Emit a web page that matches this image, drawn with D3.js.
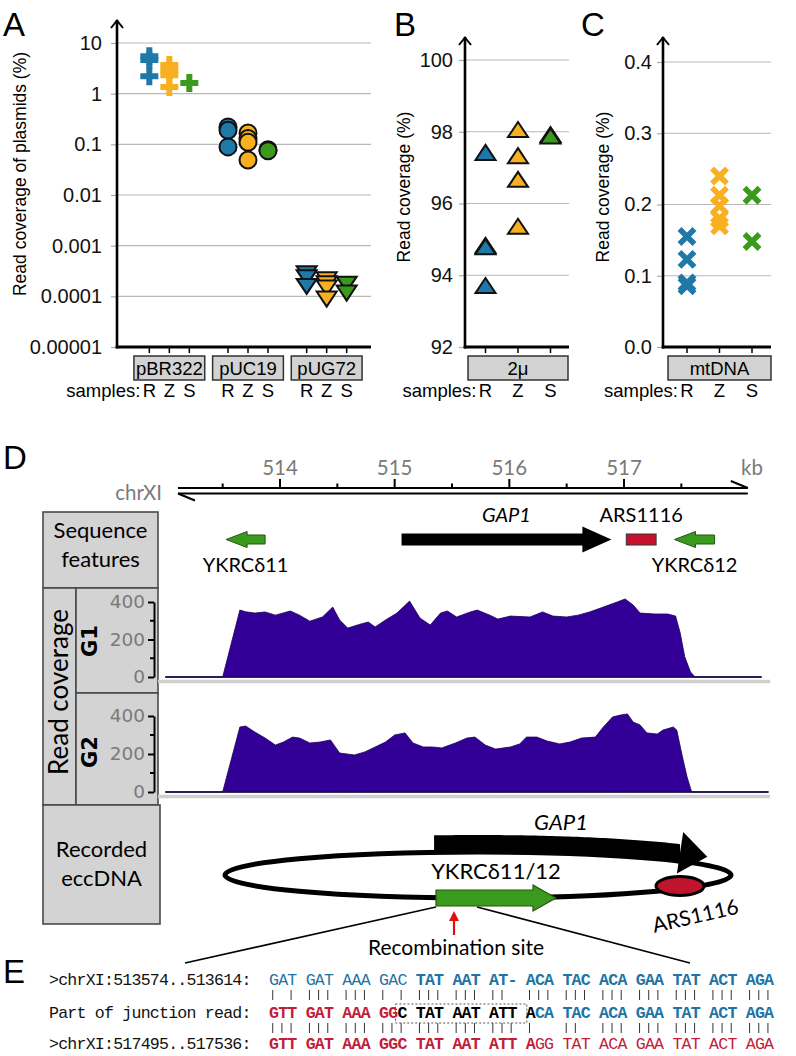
<!DOCTYPE html>
<html><head><meta charset="utf-8">
<script src="https://cdn.jsdelivr.net/npm/d3@7"></script>
<style>body{margin:0;background:#fff}svg{display:block}</style>
</head><body>
<svg id="fig" width="796" height="1056" xmlns="http://www.w3.org/2000/svg"></svg>
<script>
// ================= DATA =================
const plasmids = ["pBR322", "pUC19", "pUG72"];
const samples = ["R", "Z", "S"];
const plasmidTicks = [10, 1, 0.1, 0.01, 0.001, 0.0001, 0.00001];
const plasmidTickLabels = ["10", "1", "0.1", "0.01", "0.001", "0.0001", "0.00001"];
const pBR322 = [
  {s:"R", v:5.5}, {s:"R", v:4.6}, {s:"R", v:2.2},
  {s:"Z", v:3.7}, {s:"Z", v:2.9}, {s:"Z", v:2.3}, {s:"Z", v:1.35},
  {s:"S", v:1.62}
];
const pUC19 = [
  {s:"R", v:0.22}, {s:"R", v:0.19}, {s:"R", v:0.089},
  {s:"Z", v:0.167}, {s:"Z", v:0.13}, {s:"Z", v:0.11}, {s:"Z", v:0.049},
  {s:"S", v:0.078}, {s:"S", v:0.075}
];
const pUG72 = [
  {s:"R", v:0.00030}, {s:"R", v:0.00025}, {s:"R", v:0.000168},
  {s:"Z", v:0.000228}, {s:"Z", v:0.00019}, {s:"Z", v:0.000156}, {s:"Z", v:0.0000945},
  {s:"S", v:0.000186}, {s:"S", v:0.000124}
];
const twoMicronTicks = [100, 98, 96, 94, 92];
const twoMicron = [
  {s:"R", v:97.41}, {s:"R", v:94.82}, {s:"R", v:94.78}, {s:"R", v:93.70},
  {s:"Z", v:98.05}, {s:"Z", v:97.32}, {s:"Z", v:96.66}, {s:"Z", v:95.35},
  {s:"S", v:97.91}, {s:"S", v:97.87}
];
const mtTicks = [0.4, 0.3, 0.2, 0.1, 0.0];
const mtDNA = [
  {s:"R", v:0.155}, {s:"R", v:0.123}, {s:"R", v:0.090}, {s:"R", v:0.086},
  {s:"Z", v:0.240}, {s:"Z", v:0.213}, {s:"Z", v:0.198}, {s:"Z", v:0.180}, {s:"Z", v:0.170},
  {s:"S", v:0.213}, {s:"S", v:0.148}
];

// Panel D: genome coordinates (kb)
const kbMajor = [514, 515, 516, 517];
const kbMinor = [513.5, 514.5, 515.5, 516.5, 517.5];
const chrExtent = [513.11, 518.08];
const genes = [{name:"GAP1", start:515.06, end:516.89}];
const deltas = [{name:"YKRCδ11", start:513.53, end:513.87}, {name:"YKRCδ12", start:517.44, end:517.79}];
const arsSites = [{name:"ARS1116", start:517.02, end:517.28}];
const covTicks = [0, 200, 400];
const covMinor = [100, 300];
// coverage profiles [kb, reads]
const covG1 = [
  [513.00,0],[513.50,0],[513.65,357],[513.70,348],[513.78,341],[513.87,347],[513.96,330],
  [514.09,352],[514.17,330],[514.26,298],[514.37,320],[514.46,373],[514.52,304],[514.59,261],
  [514.70,282],[514.77,293],[514.83,267],[514.92,304],[515.02,341],[515.13,405],[515.22,315],
  [515.31,277],[515.40,341],[515.46,352],[515.54,320],[515.66,347],[515.72,357],[515.83,330],
  [515.90,309],[516.01,325],[516.18,320],[516.29,347],[516.38,325],[516.50,320],[516.60,330],
  [516.70,347],[516.82,373],[516.94,400],[517.01,416],[517.08,384],[517.14,341],[517.27,336],
  [517.38,336],[517.45,325],[517.49,235],[517.53,107],[517.58,27],[517.62,0],[518.20,0]
];
const covG2 = [
  [513.00,0],[513.50,0],[513.65,342],[513.70,347],[513.78,316],[513.87,284],[513.96,247],
  [514.03,263],[514.11,289],[514.17,284],[514.26,258],[514.35,263],[514.44,274],[514.52,205],
  [514.65,195],[514.74,211],[514.83,237],[514.92,263],[515.00,300],[515.09,311],[515.16,258],
  [515.25,237],[515.33,237],[515.41,232],[515.53,258],[515.63,284],[515.70,289],[515.79,247],
  [515.88,226],[516.01,237],[516.09,253],[516.15,289],[516.24,289],[516.33,268],[516.44,253],
  [516.53,263],[516.63,284],[516.75,289],[516.82,342],[516.90,395],[516.97,405],[517.03,411],
  [517.08,368],[517.14,353],[517.20,311],[517.29,305],[517.34,326],[517.43,342],[517.46,326],
  [517.51,184],[517.55,79],[517.59,0],[518.26,0]
];

// Panel E: alignment
const seqLabels = [">chrXI:513574..513614:", "Part of junction read:", ">chrXI:517495..517536:"];
const seqRows = [
  [{t:"GAT GAT AAA GAC ", k:"blueN"}, {t:"TAT AAT AT- ACA TAC ACA GAA TAT ACT AGA", k:"blueB"}],
  [{t:"GTT GAT AAA GG", k:"redB"}, {t:"C TAT AAT ATT A", k:"blackB"}, {t:"CA TAC ACA GAA TAT ACT AGA", k:"blueB"}],
  [{t:"GTT GAT AAA GGC TAT AAT ATT A", k:"redB"}, {t:"GG TAT ACA GAA TAT ACT AGA", k:"redN"}]
];
const matchRows = [
  "| | ||| ||| | | ||| ||| ||  ||| ||| ||| ||| ||| ||| |||",
  "||| ||| ||| ||| ||| ||| ||| |   ||  ||| ||| ||| ||| |||"
];
const junctionBox = {from:14, to:28};

// ================= STYLE =================
const SANS = "'Liberation Sans', Arial, Helvetica, sans-serif";
const HUM = "Lato, 'Open Sans', sans-serif";
const DJV = "'DejaVu Sans', sans-serif";
const MONO = "'Liberation Mono', 'Courier New', monospace";
const sampleColor = {R:"#1e79a8", Z:"#f8b020", S:"#3a9a1e"};
const seqStyle = {
  blueN:{fill:"#1f74a6", w:"normal"}, blueB:{fill:"#1f74a6", w:"bold"},
  redB:{fill:"#c21d3a", w:"bold"}, redN:{fill:"#c21d3a", w:"normal"},
  blackB:{fill:"#000", w:"bold"}
};
const svg = d3.select("#fig");

// panel letters
[["A",3,36],["B",394,36],["C",581,36],["D",3,469],["E",3,983]].forEach(([t,x,y]) =>
  svg.append("text").attr("x",x).attr("y",y).attr("font-family",SANS).attr("font-size",33).text(t));

// ================= PANELS A–C =================
const markerPath = {
  plus: "M-9,-3H-3V-9H3V-3H9V3H3V9H-3V3H-9Z",
  down: "M-10,-6L10,-6L0,9Z",
  up: "M0,-8L10,7L-10,7Z",
  cross: "M-7.5,-7.5L7.5,7.5M-7.5,7.5L7.5,-7.5"
};

function scatterPanel(cfg) {
  const g = svg.append("g");
  const y = cfg.y, xa = cfg.xAxis, xe = cfg.xEnd, yb = cfg.yBottom;
  g.append("g").selectAll("line").data(cfg.ticks.filter(t => y(t) < yb - 2)).join("line")
    .attr("x1", xa).attr("x2", xe).attr("y1", d => y(d)).attr("y2", d => y(d))
    .attr("stroke", "#b8b8b8").attr("stroke-width", 1.2);
  const ax = d3.axisLeft(y).tickValues(cfg.ticks).tickFormat(cfg.fmt).tickSize(6).tickPadding(cfg.gap);
  const ag = g.append("g").attr("transform", `translate(${xa},0)`).call(ax);
  ag.select(".domain").remove();
  ag.selectAll(".tick line").attr("stroke", "#aaa").attr("stroke-width", 1.2);
  ag.selectAll(".tick text").attr("font-family", SANS).attr("font-size", 20).attr("fill", "#111");
  g.append("line").attr("x1", xa).attr("x2", xa).attr("y1", yb + 1.5).attr("y2", cfg.yArrow)
    .attr("stroke", "#000").attr("stroke-width", 2.6);
  g.append("path").attr("d", `M${xa-6},${cfg.yArrow+8}L${xa},${cfg.yArrow+0.5}L${xa+6},${cfg.yArrow+8}`)
    .attr("fill", "none").attr("stroke", "#000").attr("stroke-width", 2);
  g.append("line").attr("x1", xa - 1.3).attr("x2", xe).attr("y1", yb).attr("y2", yb)
    .attr("stroke", "#000").attr("stroke-width", 3);
  const band = d3.scaleBand().domain(cfg.groups.map(d => d.name)).range(cfg.bandRange)
    .paddingInner(cfg.padIn).paddingOuter(cfg.padOut);
  const off = d3.scalePoint().domain(samples).range([-cfg.spread, cfg.spread]);
  cfg.groups.forEach(gr => {
    const cx = band(gr.name) + band.bandwidth() / 2;
    g.append("g").selectAll("line").data(samples).join("line")
      .attr("x1", s => cx + off(s)).attr("x2", s => cx + off(s)).attr("y1", yb).attr("y2", yb + 6)
      .attr("stroke", "#000").attr("stroke-width", 1.5);
    g.append("rect").attr("x", band(gr.name)).attr("y", 356).attr("width", band.bandwidth()).attr("height", 24)
      .attr("fill", "#d2d2d2").attr("stroke", "#333").attr("stroke-width", 1.5);
    g.append("text").attr("x", cx).attr("y", 375).attr("text-anchor", "middle")
      .attr("font-family", SANS).attr("font-size", 18.5).text(gr.name);
    g.append("g").selectAll("text").data(samples).join("text")
      .attr("x", s => cx + off(s)).attr("y", 397).attr("text-anchor", "middle")
      .attr("font-family", SANS).attr("font-size", 18.5).text(s => s);
    if (gr.marker === "circle") {
      g.append("g").selectAll("circle").data(gr.data).join("circle")
        .attr("cx", d => cx + off(d.s)).attr("cy", d => y(d.v)).attr("r", 8.5)
        .attr("fill", d => sampleColor[d.s]).attr("stroke", "#111").attr("stroke-width", 2);
    } else {
      const mk = g.append("g").selectAll("path").data(gr.data).join("path")
        .attr("transform", d => `translate(${cx + off(d.s)},${y(d.v)})`)
        .attr("d", markerPath[gr.marker]);
      if (gr.marker === "plus") mk.attr("fill", d => sampleColor[d.s]);
      else if (gr.marker === "cross") mk.attr("fill", "none").attr("stroke", d => sampleColor[d.s]).attr("stroke-width", 5.5);
      else mk.attr("fill", d => sampleColor[d.s]).attr("stroke", "#111").attr("stroke-width", 2);
    }
    if (gr === cfg.groups[0]) {
      g.append("text").attr("x", cx + off("R") - 9).attr("y", 397).attr("text-anchor", "end")
        .attr("font-family", SANS).attr("font-size", 18.5).text("samples:");
    }
  });
  g.append("text").attr("transform", `translate(${cfg.titleX},${cfg.titleY}) rotate(-90)`)
    .attr("text-anchor", "middle").attr("font-family", SANS).attr("font-size", 17.5).text(cfg.title);
}

scatterPanel({
  y: d3.scaleLog().domain([1e-5, 10]).range([347, 43]),
  ticks: plasmidTicks, fmt: (d, i) => plasmidTickLabels[i], gap: 9,
  xAxis: 117, xEnd: 371, yBottom: 347, yArrow: 20,
  groups: [
    {name: plasmids[0], data: pBR322, marker: "plus"},
    {name: plasmids[1], data: pUC19, marker: "circle"},
    {name: plasmids[2], data: pUG72, marker: "down"}
  ],
  bandRange: [130, 366], padIn: 0.1, padOut: 0.05, spread: 20,
  title: "Read coverage of plasmids (%)", titleX: 26, titleY: 174
});
scatterPanel({
  y: d3.scaleLinear().domain([92, 100]).range([347, 60]),
  ticks: twoMicronTicks, fmt: d3.format("d"), gap: 6,
  xAxis: 465, xEnd: 569, yBottom: 347, yArrow: 37,
  groups: [{name: "2μ", data: twoMicron, marker: "up"}],
  bandRange: [468, 568], padIn: 0, padOut: 0, spread: 32.5,
  title: "Read coverage (%)", titleX: 410, titleY: 187
});
scatterPanel({
  y: d3.scaleLinear().domain([0, 0.4]).range([347, 62]),
  ticks: mtTicks, fmt: d3.format(".1f"), gap: 5,
  xAxis: 663, xEnd: 771, yBottom: 347, yArrow: 37,
  groups: [{name: "mtDNA", data: mtDNA, marker: "cross"}],
  bandRange: [668, 771], padIn: 0, padOut: 0, spread: 32.5,
  title: "Read coverage (%)", titleX: 609, titleY: 187
});

// ================= PANEL D =================
const xD = d3.scaleLinear().domain([514, 517]).range([280, 624]);
const gD = svg.append("g");
const grey = "#7a7a7a";
const xl = xD(chrExtent[0]), xr = xD(chrExtent[1]);
gD.append("line").attr("x1", xl).attr("x2", xr).attr("y1", 488).attr("y2", 488).attr("stroke", "#000").attr("stroke-width", 2);
gD.append("line").attr("x1", xl).attr("x2", xr).attr("y1", 493.5).attr("y2", 493.5).attr("stroke", "#000").attr("stroke-width", 2);
gD.append("path").attr("d", `M${xr-17},481L${xr},488`).attr("stroke", "#000").attr("stroke-width", 2).attr("fill", "none");
gD.append("path").attr("d", `M${xl+17},500.5L${xl},493.5`).attr("stroke", "#000").attr("stroke-width", 2).attr("fill", "none");
gD.selectAll(".kbmaj").data(kbMajor).join("line").attr("x1", d => xD(d)).attr("x2", d => xD(d))
  .attr("y1", 479).attr("y2", 488).attr("stroke", "#000").attr("stroke-width", 2);
gD.selectAll(".kbmin").data(kbMinor).join("line").attr("x1", d => xD(d)).attr("x2", d => xD(d))
  .attr("y1", 483.5).attr("y2", 488).attr("stroke", "#000").attr("stroke-width", 2);
gD.selectAll(".kblab").data(kbMajor).join("text").attr("x", d => xD(d)).attr("y", 475)
  .attr("text-anchor", "middle").attr("font-family", HUM).attr("font-size", 20.5).attr("fill", grey).text(d => d);
gD.append("text").attr("x", 741).attr("y", 475).attr("font-family", HUM).attr("font-size", 20.5).attr("fill", grey).text("kb");
gD.append("text").attr("x", 162).attr("y", 500).attr("text-anchor", "end").attr("font-family", HUM).attr("font-size", 20.5).attr("fill", grey).text("chrXI");

const boxFill = "#d3d3d3", boxStroke = "#4a4a4a";
[[43,512,115,76],[43,588,33,217],[76,588,82,105],[76,693,82,112],[43,805,117,119]].forEach(([x,y,w,h]) =>
  gD.append("rect").attr("x", x).attr("y", y).attr("width", w).attr("height", h)
    .attr("fill", boxFill).attr("stroke", boxStroke).attr("stroke-width", 1.6));
const boxText = (lines, cx, y0, dy, size) => lines.forEach((t, i) =>
  gD.append("text").attr("x", cx).attr("y", y0 + i * dy).attr("text-anchor", "middle")
    .attr("font-family", HUM).attr("font-size", size).text(t));
boxText(["Sequence", "features"], 100.5, 538, 29, 22);
boxText(["Recorded", "eccDNA"], 101.5, 857, 29, 22);
gD.append("text").attr("transform", "translate(68,692) rotate(-90)").attr("text-anchor", "middle")
  .attr("font-family", HUM).attr("font-size", 26).text("Read coverage");

const featY = 539.5;
genes.forEach(f => {
  const a = xD(f.start), b = xD(f.end), h = 29;
  gD.append("path").attr("d", `M${a},${featY-6}H${b-h}V${featY-13}L${b},${featY}L${b-h},${featY+13}V${featY+6}H${a}Z`).attr("fill", "#000");
  gD.append("text").attr("x", (a + b) / 2).attr("y", 522).attr("text-anchor", "middle")
    .attr("font-family", HUM).attr("font-style", "italic").attr("font-size", 20).text(f.name);
});
deltas.forEach(f => {
  const a = xD(f.start), b = xD(f.end), h = 21;
  gD.append("path").attr("d", `M${a},${featY}L${a+h},${featY-8}V${featY-4.5}H${b}V${featY+4.5}H${a+h}V${featY+8}Z`)
    .attr("fill", "#3a9a1e").attr("stroke", "#24560f").attr("stroke-width", 1);
  gD.append("text").attr("x", (a + b) / 2).attr("y", 572).attr("text-anchor", "middle")
    .attr("font-family", HUM).attr("font-size", 20).text(f.name);
});
arsSites.forEach(f => {
  const a = xD(f.start), b = xD(f.end);
  gD.append("rect").attr("x", a).attr("y", featY - 5.5).attr("width", b - a).attr("height", 11)
    .attr("fill", "#c8102e").attr("stroke", "#333").attr("stroke-width", 1);
  gD.append("text").attr("x", (a + b) / 2).attr("y", 522).attr("text-anchor", "middle")
    .attr("font-family", HUM).attr("font-size", 20).text(f.name);
});

function track(data, y0, y400, label, labelY) {
  const y = d3.scaleLinear().domain([0, 400]).range([y0, y400]);
  gD.append("line").attr("x1", 158).attr("x2", 770).attr("y1", y0 + 4.5).attr("y2", y0 + 4.5)
    .attr("stroke", "#cfcfcf").attr("stroke-width", 3.5);
  gD.append("line").attr("x1", xD(data[0][0])).attr("x2", xD(data[data.length - 1][0]))
    .attr("y1", y0).attr("y2", y0).attr("stroke", "#111").attr("stroke-width", 1.3);
  const area = d3.area().x(d => xD(d[0])).y0(y0).y1(d => y(d[1]));
  gD.append("path").datum(data).attr("d", area).attr("fill", "#320096").attr("stroke", "#1c0058").attr("stroke-width", 0.8);
  const ax = d3.axisLeft(y).tickValues(covTicks).tickSize(6).tickSizeOuter(0).tickPadding(3);
  const ag = gD.append("g").attr("transform", "translate(154,0)").call(ax);
  ag.select(".domain").attr("stroke", "#000").attr("stroke-width", 2);
  ag.selectAll(".tick line").attr("stroke", "#000").attr("stroke-width", 2);
  ag.selectAll(".tick text").attr("font-family", DJV).attr("font-size", 18.5).attr("fill", grey);
  ag.selectAll(".mn").data(covMinor).join("line").attr("x1", -4).attr("x2", 0)
    .attr("y1", d => y(d)).attr("y2", d => y(d)).attr("stroke", "#000").attr("stroke-width", 2);
  gD.append("text").attr("transform", `translate(97,${labelY}) rotate(-90)`).attr("text-anchor", "middle")
    .attr("font-family", DJV).attr("font-weight", "bold").attr("font-size", 21).text(label);
}
track(covG1, 677, 602, "G1", 641);
track(covG2, 792, 716, "G2", 752);

const ecc = {cx: 478, cy: 875, rx: 253, ry: 23};
const ept = t => [ecc.cx + ecc.rx * Math.cos(t * Math.PI / 180), ecc.cy - ecc.ry * Math.sin(t * Math.PI / 180)];
gD.append("ellipse").attr("cx", ecc.cx).attr("cy", ecc.cy).attr("rx", ecc.rx).attr("ry", ecc.ry)
  .attr("fill", "none").attr("stroke", "#000").attr("stroke-width", 5);
const tA = d3.range(100, 36.9, -1).concat([37]);
const inner = tA.map(ept), outer = tA.map(t => { const p = ept(t); return [p[0], p[1] - 17]; });
gD.append("path").attr("d", d3.line()(outer.concat(inner.slice().reverse())) + "Z").attr("fill", "#000");
{
  const b0 = ept(37), t0 = ept(25);
  const B = [b0[0], b0[1] - 8.5], T = [t0[0], t0[1] - 8.5];
  const dx = T[0] - B[0], dy = T[1] - B[1], L = Math.hypot(dx, dy);
  const n = [-dy / L, dx / L];
  gD.append("path").attr("d", `M${B[0]+21*n[0]},${B[1]+21*n[1]}L${T[0]},${T[1]}L${B[0]-21*n[0]},${B[1]-21*n[1]}Z`).attr("fill", "#000");
}
gD.append("text").attr("x", 561).attr("y", 830).attr("text-anchor", "middle").attr("font-family", HUM)
  .attr("font-style", "italic").attr("font-size", 22).text("GAP1");
gD.append("line").attr("x1", 436).attr("y1", 907).attr("x2", 185).attr("y2", 963).attr("stroke", "#000").attr("stroke-width", 1.6);
gD.append("line").attr("x1", 477).attr("y1", 907).attr("x2", 690).attr("y2", 963).attr("stroke", "#000").attr("stroke-width", 1.6);
{
  const yb = ecc.cy + ecc.ry;
  gD.append("path").attr("d", `M436,${yb-8}H533V${yb-13}L556,${yb}L533,${yb+13}V${yb+8}H436Z`)
    .attr("fill", "#3a9a1e").attr("stroke", "#24560f").attr("stroke-width", 1.2);
}
gD.append("text").attr("x", 496).attr("y", 879).attr("text-anchor", "middle").attr("font-family", HUM)
  .attr("font-size", 22).text("YKRCδ11/12");
gD.append("ellipse").attr("cx", 680).attr("cy", 886).attr("rx", 24).attr("ry", 9.5)
  .attr("fill", "#c0142e").attr("stroke", "#000").attr("stroke-width", 3);
gD.append("text").attr("transform", "translate(697,923) rotate(-13)").attr("text-anchor", "middle")
  .attr("font-family", HUM).attr("font-size", 21).text("ARS1116");
gD.append("line").attr("x1", 454).attr("x2", 454).attr("y1", 935).attr("y2", 920).attr("stroke", "#e01010").attr("stroke-width", 2.2);
gD.append("path").attr("d", "M449,921L454,911L459,921Z").attr("fill", "#e01010");
gD.append("text").attr("x", 456).attr("y", 955).attr("text-anchor", "middle").attr("font-family", HUM)
  .attr("font-size", 21).text("Recombination site");

// ================= PANEL E =================
const gE = svg.append("g");
const ex0 = 49, fs = 16.6, cw = 9.17;
const ls = cw - 0.6 * fs;
const rowY = [985, 1018, 1049];
const seqCol = 24;
seqRows.forEach((row, i) => {
  const t = gE.append("text").attr("x", ex0).attr("y", rowY[i]).attr("font-family", MONO)
    .attr("font-size", fs).attr("letter-spacing", ls).attr("xml:space", "preserve").style("white-space", "pre");
  t.append("tspan").attr("fill", "#111").text(seqLabels[i] + "  ");
  row.forEach(seg => t.append("tspan").attr("fill", seqStyle[seg.k].fill).attr("font-weight", seqStyle[seg.k].w).text(seg.t));
});
const pipeY = [[990, 1000], [1023, 1033]];
matchRows.forEach((m, i) => {
  const cols = [];
  m.split("").forEach((c, j) => { if (c === "|") cols.push(j); });
  gE.append("g").selectAll("line").data(cols).join("line")
    .attr("x1", j => ex0 + (seqCol + j + 0.4) * cw).attr("x2", j => ex0 + (seqCol + j + 0.4) * cw)
    .attr("y1", pipeY[i][0]).attr("y2", pipeY[i][1]).attr("stroke", "#333").attr("stroke-width", 1);
});
gE.append("rect").attr("x", ex0 + (seqCol + junctionBox.from) * cw - 2).attr("y", rowY[1] - 14)
  .attr("width", (junctionBox.to - junctionBox.from) * cw + 3).attr("height", 19)
  .attr("fill", "none").attr("stroke", "#555").attr("stroke-width", 1).attr("stroke-dasharray", "2,2");
</script>
</body></html>
